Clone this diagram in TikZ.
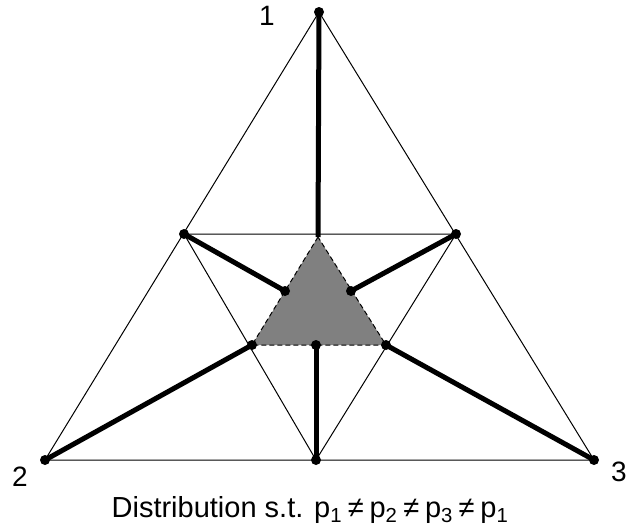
\documentclass[tikz,border=0pt]{standalone}
\usepackage{fontspec}
\setmainfont{Liberation Sans}
\begin{document}
\begin{tikzpicture}[x=1pt,y=-1pt,
  thinline/.style={line width=1pt},
  thickline/.style={line width=5pt},
  dot/.style={circle,fill=black,inner sep=0pt,minimum size=10pt},
  lbl/.style={font=\fontsize{28}{30}\selectfont,inner sep=0pt}]
\useasboundingbox (0,0) rectangle (628,531);
% outer vertices
\coordinate (V1) at (319,12);
\coordinate (V2) at (45,460);
\coordinate (V3) at (594,460);
% midpoints
\coordinate (M12) at (184,234);
\coordinate (M13) at (456,234);
\coordinate (M23) at (316,460);
% gray triangle
\coordinate (GT) at (318,237);
\coordinate (GL) at (252,345);
\coordinate (GR) at (386,345);
\coordinate (DL) at (285,291);
\coordinate (DR) at (351,291);
\coordinate (DB) at (316,345);
% thin lines
\draw[thinline] (V1) -- (V2) -- (V3) -- cycle;
\draw[thinline] (M12) -- (M13) -- (M23) -- cycle;
% gray triangle
\fill[gray] (GT) -- (GL) -- (GR) -- cycle;
\draw[line width=1pt,dash pattern=on 5pt off 3pt] (GT) -- (GL) -- (GR) -- cycle;
% thick lines
\draw[thickline] (V1) -- (GT);
\draw[thickline] (M12) -- (DL);
\draw[thickline] (M13) -- (DR);
\draw[thickline] (V2) -- (GL);
\draw[thickline] (V3) -- (GR);
\draw[thickline] (M23) -- (DB);
% dots
\foreach \p in {V1,V2,V3,M12,M13,M23,GL,GR,DL,DR,DB}
  \node[dot] at (\p) {};
% labels
\node[lbl] (l1) at (267,16) {1};
\node[lbl] (l2) at (20,477) {2};
\node[lbl] (l3) at (619,472) {3};
\node[lbl,font=\fontsize{29}{31}\selectfont,anchor=base] (cap) at (310,517) {Distribution s.t. p\textsubscript{1}\hspace{0.2em}≠\hspace{0.2em}p\textsubscript{2}\hspace{0.2em}≠\hspace{0.2em}p\textsubscript{3}\hspace{0.2em}≠\hspace{0.2em}p\textsubscript{1}};
\end{tikzpicture}
\end{document}
